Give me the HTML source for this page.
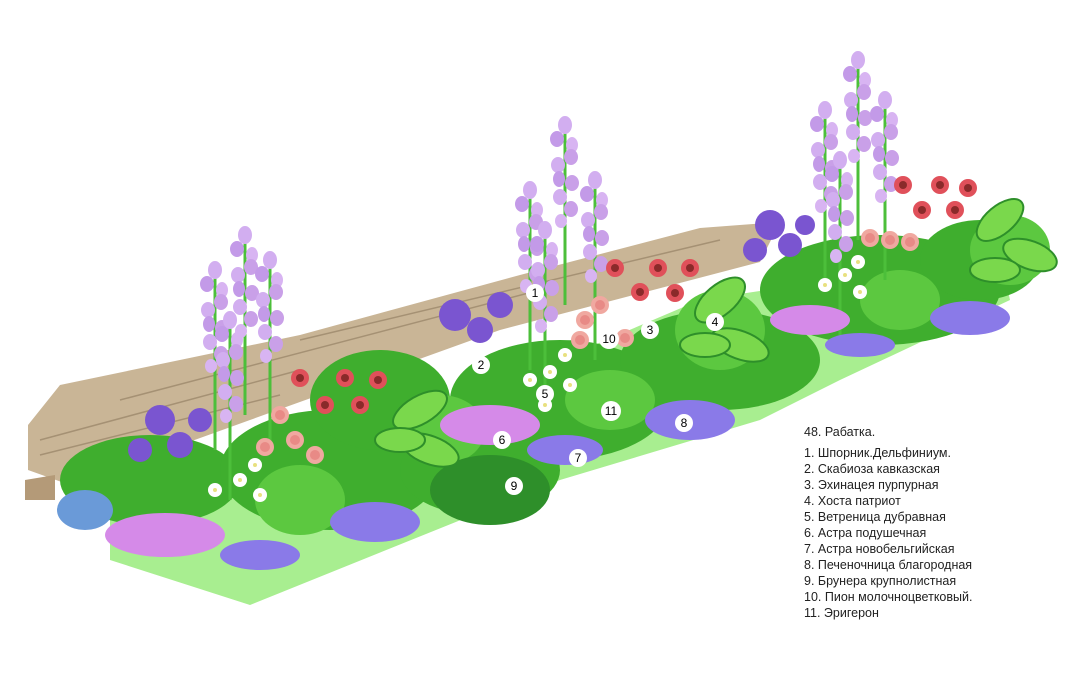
<!DOCTYPE html>
<html><head><meta charset="utf-8"><style>
html,body{margin:0;padding:0;background:#fff;width:1080px;height:698px;overflow:hidden}
.leg{position:absolute;left:804px;font-family:"Liberation Sans",sans-serif;font-size:12.5px;color:#222;white-space:nowrap}
</style></head><body>
<svg width="1080" height="698" style="position:absolute;left:0;top:0">
<defs>
<g id="spk"><line x1="0" y1="0" x2="0" y2="180" stroke="#4cbf3a" stroke-width="3"/><ellipse cx="0" cy="0" rx="7" ry="9" fill="#d2aef0"/><ellipse cx="-8" cy="14" rx="7" ry="8" fill="#c39ae8"/><ellipse cx="7" cy="20" rx="6" ry="8" fill="#d8b4f2"/><ellipse cx="6" cy="32" rx="7" ry="8" fill="#c9a0e8"/><ellipse cx="-7" cy="40" rx="7" ry="8" fill="#d2aef0"/><ellipse cx="-6" cy="54" rx="6" ry="8" fill="#c39ae8"/><ellipse cx="7" cy="58" rx="7" ry="8" fill="#c9a0e8"/><ellipse cx="-5" cy="72" rx="7" ry="8" fill="#d2aef0"/><ellipse cx="6" cy="84" rx="7" ry="8" fill="#c9a0e8"/><ellipse cx="-4" cy="96" rx="6" ry="7" fill="#d8b4f2"/></g>
<g id="ech"><circle r="9" fill="#e0505a"/><circle r="4" fill="#8a2a2a"/></g>
<g id="rose"><circle r="9" fill="#f0a8a0"/><circle r="5" fill="#e88a86"/></g>
<g id="dai"><circle r="7" fill="#fff"/><circle r="2" fill="#e8e080"/></g>
</defs>
<polygon points="110,560 250,605 560,480 760,420 840,380 1010,300 1000,255 700,300 300,470 110,520" fill="#a8ee90"/>
<polygon points="28,425 60,385 300,335 520,275 700,228 780,222 760,262 500,330 250,420 70,485 28,470" fill="#c9b596"/>
<g stroke="#8d7a5e" stroke-width="1.5" fill="none" opacity=".6">
<path d="M40,440 L300,370 M40,455 L280,395 M120,400 L540,290 M300,340 L720,240"/>
</g>
<polygon points="25,480 55,475 55,500 25,500" fill="#b49a78"/>
<g fill="#3fae2e">
<ellipse cx="150" cy="480" rx="90" ry="45"/><ellipse cx="330" cy="470" rx="110" ry="60"/><ellipse cx="480" cy="470" rx="80" ry="45"/>
<ellipse cx="560" cy="400" rx="110" ry="60"/><ellipse cx="720" cy="360" rx="100" ry="50"/><ellipse cx="880" cy="290" rx="120" ry="55"/>
<ellipse cx="980" cy="260" rx="60" ry="40"/><ellipse cx="380" cy="400" rx="70" ry="50"/>
</g>
<g fill="#5cc840">
<ellipse cx="300" cy="500" rx="45" ry="35"/><ellipse cx="610" cy="400" rx="45" ry="30"/><ellipse cx="900" cy="300" rx="40" ry="30"/>
<ellipse cx="440" cy="430" rx="45" ry="35"/><ellipse cx="720" cy="330" rx="45" ry="40"/><ellipse cx="1010" cy="250" rx="40" ry="35"/>
</g>
<ellipse cx="490" cy="490" rx="60" ry="35" fill="#2e8f2a"/>
<g fill="#7a55d0">
<circle cx="160" cy="420" r="15"/><circle cx="180" cy="445" r="13"/><circle cx="140" cy="450" r="12"/><circle cx="200" cy="420" r="12"/>
<circle cx="455" cy="315" r="16"/><circle cx="480" cy="330" r="13"/><circle cx="500" cy="305" r="13"/>
<circle cx="770" cy="225" r="15"/><circle cx="755" cy="250" r="12"/><circle cx="790" cy="245" r="12"/><circle cx="805" cy="225" r="10"/>
</g>
<g>
<use href="#spk" x="215" y="270"/><use href="#spk" x="245" y="235"/><use href="#spk" x="270" y="260"/><use href="#spk" x="230" y="320"/>
<use href="#spk" x="530" y="190"/><use href="#spk" x="565" y="125"/><use href="#spk" x="595" y="180"/><use href="#spk" x="545" y="230"/>
<use href="#spk" x="825" y="110"/><use href="#spk" x="858" y="60"/><use href="#spk" x="885" y="100"/><use href="#spk" x="840" y="160"/>
</g>
<g fill="#7ad84c" stroke="#2e8f2a" stroke-width="2">
<ellipse cx="420" cy="410" rx="30" ry="14" transform="rotate(-30 420 410)"/><ellipse cx="430" cy="450" rx="30" ry="14" transform="rotate(20 430 450)"/><ellipse cx="400" cy="440" rx="25" ry="12"/>
<ellipse cx="720" cy="300" rx="30" ry="15" transform="rotate(-40 720 300)"/><ellipse cx="740" cy="345" rx="30" ry="14" transform="rotate(20 740 345)"/><ellipse cx="705" cy="345" rx="25" ry="12"/>
<ellipse cx="1000" cy="220" rx="28" ry="14" transform="rotate(-40 1000 220)"/><ellipse cx="1030" cy="255" rx="28" ry="14" transform="rotate(20 1030 255)"/><ellipse cx="995" cy="270" rx="25" ry="12"/>
</g>
<g>
<use href="#ech" x="300" y="378"/><use href="#ech" x="325" y="405"/><use href="#ech" x="345" y="378"/><use href="#ech" x="360" y="405"/><use href="#ech" x="378" y="380"/>
<use href="#ech" x="615" y="268"/><use href="#ech" x="640" y="292"/><use href="#ech" x="658" y="268"/><use href="#ech" x="675" y="293"/><use href="#ech" x="690" y="268"/>
<use href="#ech" x="903" y="185"/><use href="#ech" x="922" y="210"/><use href="#ech" x="940" y="185"/><use href="#ech" x="955" y="210"/><use href="#ech" x="968" y="188"/>
</g>
<g>
<use href="#rose" x="280" y="415"/><use href="#rose" x="265" y="447"/><use href="#rose" x="295" y="440"/><use href="#rose" x="315" y="455"/>
<use href="#rose" x="585" y="320"/><use href="#rose" x="580" y="340"/><use href="#rose" x="625" y="338"/><use href="#rose" x="600" y="305"/>
<use href="#rose" x="870" y="238"/><use href="#rose" x="890" y="240"/><use href="#rose" x="910" y="242"/>
</g>
<g>
<use href="#dai" x="215" y="490"/><use href="#dai" x="240" y="480"/><use href="#dai" x="260" y="495"/><use href="#dai" x="255" y="465"/>
<use href="#dai" x="530" y="380"/><use href="#dai" x="550" y="372"/><use href="#dai" x="570" y="385"/><use href="#dai" x="565" y="355"/><use href="#dai" x="545" y="405"/>
<use href="#dai" x="825" y="285"/><use href="#dai" x="845" y="275"/><use href="#dai" x="860" y="292"/><use href="#dai" x="858" y="262"/>
</g>
<g fill="#8a7ae8">
<ellipse cx="375" cy="522" rx="45" ry="20"/><ellipse cx="260" cy="555" rx="40" ry="15"/><ellipse cx="565" cy="450" rx="38" ry="15"/>
<ellipse cx="690" cy="420" rx="45" ry="20"/><ellipse cx="860" cy="345" rx="35" ry="12"/><ellipse cx="970" cy="318" rx="40" ry="17"/>
</g>
<g fill="#d58ae8">
<ellipse cx="165" cy="535" rx="60" ry="22"/><ellipse cx="490" cy="425" rx="50" ry="20"/><ellipse cx="810" cy="320" rx="40" ry="15"/>
</g>
<ellipse cx="85" cy="510" rx="28" ry="20" fill="#6a9ad8"/>
<g font-family="Liberation Sans,sans-serif" font-size="12" text-anchor="middle">
<g fill="#fff"><circle cx="535" cy="293" r="9"/><circle cx="481" cy="365" r="9"/><circle cx="650" cy="330" r="9"/><circle cx="715" cy="322" r="9"/><circle cx="545" cy="394" r="9"/><circle cx="502" cy="440" r="9"/><circle cx="578" cy="458" r="9"/><circle cx="684" cy="423" r="9"/><circle cx="514" cy="486" r="9"/><circle cx="609" cy="339" r="10"/><circle cx="611" cy="411" r="10"/></g>
<text x="535" y="297">1</text><text x="481" y="369">2</text><text x="650" y="334">3</text><text x="715" y="326">4</text><text x="545" y="398">5</text><text x="502" y="444">6</text><text x="578" y="462">7</text><text x="684" y="427">8</text><text x="514" y="490">9</text><text x="609" y="343">10</text><text x="611" y="415">11</text>
</g>
</svg>
<div class="leg" style="top:425px">48. Рабатка.</div>
<div class="leg" style="top:446px">1. Шпорник.Дельфиниум.</div>
<div class="leg" style="top:462px">2. Скабиоза кавказская</div>
<div class="leg" style="top:478px">3. Эхинацея пурпурная</div>
<div class="leg" style="top:494px">4. Хоста патриот</div>
<div class="leg" style="top:510px">5. Ветреница дубравная</div>
<div class="leg" style="top:526px">6. Астра подушечная</div>
<div class="leg" style="top:542px">7. Астра новобельгийская</div>
<div class="leg" style="top:558px">8. Печеночница благородная</div>
<div class="leg" style="top:574px">9. Брунера крупнолистная</div>
<div class="leg" style="top:590px">10. Пион молочноцветковый.</div>
<div class="leg" style="top:606px">11. Эригерон</div>
</body></html>
